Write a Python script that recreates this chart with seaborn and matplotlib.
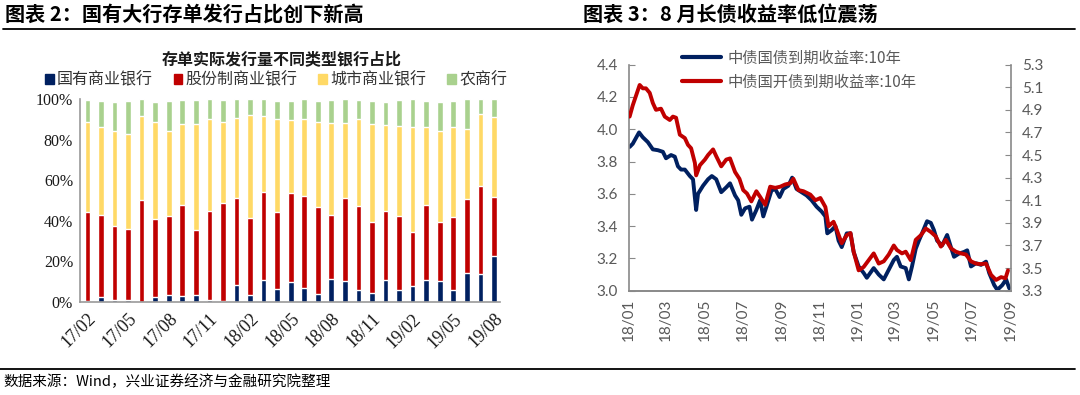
import pandas as pd
import matplotlib.pyplot as plt
import matplotlib.dates as mdates
from matplotlib.patches import Patch
from matplotlib.lines import Line2D
from matplotlib.ticker import FuncFormatter
import seaborn as sns

sns.set_theme(style="white")
plt.rcParams['font.family'] = ['Noto Sans CJK SC', 'DejaVu Sans']
plt.rcParams['axes.unicode_minus'] = False

# ---- 图表2 数据：各类银行存单实际发行量占比 (%)
months = pd.date_range('2017-02-01', periods=31, freq='MS').strftime('%y/%m').tolist()
bank_types = ['国有商业银行', '股份制商业银行', '城市商业银行', '农商行']
soe = [0.3, 2.5, 1.2, 1.2, 0.2, 2.3, 3.6, 3.1, 3.6, 0.8, 0.3, 8.4, 3.6, 10.7, 6.2, 10.0,
       6.9, 3.8, 11.1, 10.2, 6.1, 4.4, 10.7, 6.1, 8.0, 10.8, 10.2, 5.7, 14.4, 13.8, 22.5]
joint_stock = [43.8, 40.5, 36.3, 34.7, 50.1, 38.7, 39.0, 44.8, 32.0, 43.8, 48.7, 42.7, 37.7,
               43.4, 38.2, 43.8, 45.4, 43.2, 32.0, 40.8, 41.1, 34.8, 33.9, 36.4, 26.4, 37.2,
               29.1, 36.3, 36.4, 43.4, 29.1]
city = [44.6, 43.4, 46.9, 46.7, 41.2, 47.9, 41.8, 39.6, 51.9, 45.7, 39.9, 39.7, 50.8, 37.7,
        45.9, 35.7, 37.7, 41.9, 45.1, 37.2, 43.1, 48.7, 42.6, 44.4, 52.0, 38.4, 45.1, 44.1,
        34.3, 35.3, 39.5]
rural = [11.0, 12.8, 14.3, 16.6, 8.5, 9.8, 14.8, 12.2, 12.2, 9.7, 10.8, 9.2, 7.9, 8.2, 8.9,
         9.7, 10.0, 10.3, 11.5, 11.8, 9.4, 11.3, 11.5, 12.8, 13.6, 12.8, 14.3, 13.1, 14.9,
         7.5, 8.9]

# ---- 图表3 数据：10年期收益率
gov_dates = ['2018-01-02', '2018-01-07', '2018-01-17', '2018-01-23', '2018-01-31', '2018-02-08',
             '2018-02-16', '2018-02-24', '2018-03-01', '2018-03-09', '2018-03-15', '2018-03-20',
             '2018-03-25', '2018-03-31', '2018-04-08', '2018-04-13', '2018-04-18', '2018-04-21',
             '2018-04-29', '2018-05-07', '2018-05-13', '2018-05-20', '2018-05-28', '2018-06-05',
             '2018-06-11', '2018-06-19', '2018-06-24', '2018-06-29', '2018-07-05', '2018-07-12',
             '2018-07-16', '2018-07-23', '2018-07-29', '2018-08-03', '2018-08-08', '2018-08-16',
             '2018-08-22', '2018-08-29', '2018-09-04', '2018-09-12', '2018-09-18', '2018-09-25',
             '2018-10-03', '2018-10-11', '2018-10-19', '2018-10-27', '2018-11-04', '2018-11-10',
             '2018-11-13', '2018-11-20', '2018-11-26', '2018-12-01', '2018-12-06', '2018-12-14',
             '2018-12-20', '2018-12-25', '2019-01-02', '2019-01-10', '2019-01-15', '2019-01-26',
             '2019-02-03', '2019-02-11', '2019-02-19', '2019-02-27', '2019-03-04', '2019-03-10',
             '2019-03-18', '2019-03-23', '2019-03-28', '2019-04-03', '2019-04-08', '2019-04-13',
             '2019-04-21', '2019-04-27', '2019-05-02', '2019-05-07', '2019-05-15', '2019-05-23',
             '2019-05-29', '2019-06-03', '2019-06-11', '2019-06-19', '2019-06-24', '2019-06-30',
             '2019-07-08', '2019-07-16', '2019-07-24', '2019-07-29', '2019-08-06', '2019-08-11',
             '2019-08-19', '2019-08-25', '2019-08-30']
gov_yield = [3.89, 3.91, 3.98, 3.95, 3.92, 3.875, 3.87, 3.86, 3.82, 3.84, 3.83, 3.77, 3.75,
             3.75, 3.71, 3.69, 3.50, 3.60, 3.65, 3.69, 3.71, 3.69, 3.61, 3.64, 3.665, 3.59,
             3.56, 3.47, 3.51, 3.52, 3.44, 3.50, 3.56, 3.46, 3.52, 3.62, 3.63, 3.58, 3.63,
             3.65, 3.70, 3.63, 3.61, 3.59, 3.56, 3.52, 3.49, 3.46, 3.355, 3.375, 3.40, 3.31,
             3.27, 3.355, 3.355, 3.24, 3.15, 3.11, 3.08, 3.14, 3.10, 3.07, 3.13, 3.19, 3.21,
             3.15, 3.14, 3.07, 3.15, 3.26, 3.31, 3.355, 3.43, 3.42, 3.375, 3.31, 3.28, 3.345,
             3.27, 3.21, 3.23, 3.24, 3.25, 3.15, 3.17, 3.16, 3.18, 3.11, 3.035, 3.005, 3.035,
             3.07, 3.015]
cdb_dates = ['2018-01-02', '2018-01-07', '2018-01-18', '2018-01-23', '2018-01-28', '2018-02-03',
             '2018-02-08', '2018-02-13', '2018-02-21', '2018-02-27', '2018-03-07', '2018-03-12',
             '2018-03-17', '2018-03-23', '2018-03-31', '2018-04-05', '2018-04-10', '2018-04-16',
             '2018-04-18', '2018-04-24', '2018-05-02', '2018-05-07', '2018-05-15', '2018-05-20',
             '2018-05-28', '2018-06-05', '2018-06-11', '2018-06-19', '2018-06-26', '2018-07-02',
             '2018-07-08', '2018-07-15', '2018-07-23', '2018-07-29', '2018-08-06', '2018-08-14',
             '2018-08-22', '2018-08-30', '2018-09-07', '2018-09-15', '2018-09-20', '2018-09-28',
             '2018-10-06', '2018-10-17', '2018-10-25', '2018-11-02', '2018-11-10', '2018-11-15',
             '2018-11-23', '2018-11-28', '2018-12-06', '2018-12-14', '2018-12-20', '2018-12-25',
             '2019-01-02', '2019-01-10', '2019-01-18', '2019-01-26', '2019-02-03', '2019-02-11',
             '2019-02-19', '2019-02-27', '2019-03-04', '2019-03-12', '2019-03-18', '2019-03-26',
             '2019-04-03', '2019-04-11', '2019-04-19', '2019-04-27', '2019-05-05', '2019-05-13',
             '2019-05-21', '2019-05-29', '2019-06-06', '2019-06-14', '2019-06-22', '2019-06-30',
             '2019-07-08', '2019-07-16', '2019-07-24', '2019-08-01', '2019-08-09', '2019-08-17',
             '2019-08-24', '2019-08-28']
cdb_yield = [4.84, 4.94, 5.12, 5.09, 5.09, 5.05, 4.96, 4.90, 4.91, 4.84, 4.81, 4.84, 4.83,
             4.68, 4.65, 4.59, 4.56, 4.43, 4.32, 4.41, 4.46, 4.50, 4.55, 4.49, 4.40, 4.46,
             4.47, 4.35, 4.29, 4.19, 4.16, 4.09, 4.18, 4.13, 4.06, 4.22, 4.21, 4.22, 4.24,
             4.25, 4.29, 4.19, 4.18, 4.15, 4.10, 4.12, 4.04, 3.87, 3.91, 3.84, 3.72, 3.79,
             3.81, 3.645, 3.48, 3.51, 3.57, 3.63, 3.54, 3.56, 3.62, 3.70, 3.66, 3.63, 3.645,
             3.57, 3.75, 3.79, 3.85, 3.82, 3.78, 3.69, 3.75, 3.675, 3.645, 3.63, 3.62, 3.56,
             3.54, 3.535, 3.54, 3.44, 3.395, 3.42, 3.41, 3.48]

navy = '#002060'
red = '#C00000'
yellow = '#FFD966'
green = '#A9D18E'
W, H = 1080, 395

fig = plt.figure(figsize=(W / 100, H / 100), dpi=100)

# ---------------- 左图：堆叠柱状图
ax1 = fig.add_axes([80 / W, 1 - 302 / H, 420 / W, 203 / H])
cum1 = soe
cum2 = [a + b for a, b in zip(cum1, joint_stock)]
cum3 = [a + b for a, b in zip(cum2, city)]
cum4 = [a + b for a, b in zip(cum3, rural)]
for vals, c in [(cum4, green), (cum3, yellow), (cum2, red), (cum1, navy)]:
    sns.barplot(x=months, y=vals, color=c, saturation=1, width=0.42,
                errorbar=None, ax=ax1)
ax1.set_xlim(-0.55, 30.45)
ax1.set_ylim(0, 100)
ax1.set_yticks(range(0, 101, 20))
ax1.yaxis.set_major_formatter(FuncFormatter(lambda v, p: f'{v:.0f}%'))
ax1.set_xticks(range(0, 31, 3))
ax1.set_xticklabels(months[::3], rotation=45, ha='right', va='top', rotation_mode='anchor')
for lab in ax1.get_yticklabels():
    lab.set_fontfamily('Liberation Serif')
    lab.set_fontsize(11.5)
    lab.set_color('#1a1a1a')
for lab in ax1.get_xticklabels():
    lab.set_fontfamily('Liberation Serif')
    lab.set_fontsize(13)
    lab.set_color('#1a1a1a')
ax1.tick_params(axis='y', direction='out', length=3, width=0.8, color='#999999', pad=2)
ax1.tick_params(axis='x', length=0, pad=6)
for s in ['top', 'right']:
    ax1.spines[s].set_visible(False)
for s in ['left', 'bottom']:
    ax1.spines[s].set_color('#999999')
    ax1.spines[s].set_linewidth(1.2)
ax1.set_xlabel('')
ax1.set_ylabel('')

fig.text(282 / W, 1 - 59 / H, '存单实际发行量不同类型银行占比', ha='center', va='center',
         fontsize=11.5, fontweight='bold', color='#1a1a1a')
fig.legend(handles=[Patch(color=c) for c in [navy, red, yellow, green]], labels=bank_types,
           loc='center', bbox_to_anchor=(276 / W, 1 - 80 / H), ncol=4, frameon=False,
           handlelength=0.55, handleheight=0.55, handletextpad=0.2, columnspacing=1.3,
           fontsize=11.5, labelcolor='#333333', borderpad=0)

# ---------------- 右图：双轴收益率
ax2 = fig.add_axes([629 / W, 1 - 290.7 / H, 381.5 / W, 226.1 / H])
ax3 = ax2.twinx()
sns.lineplot(x=pd.to_datetime(gov_dates), y=gov_yield, color=navy, lw=2.8, ax=ax2)
sns.lineplot(x=pd.to_datetime(cdb_dates), y=cdb_yield, color=red, lw=2.8, ax=ax3)
ax2.set_xlim(pd.Timestamp('2018-01-01'), pd.Timestamp('2019-09-01'))
ax2.set_ylim(3.0, 4.4)
ax3.set_ylim(3.3, 5.3)
ax2.set_yticks([3.0 + 0.2 * i for i in range(8)])
ax3.set_yticks([3.3 + 0.2 * i for i in range(11)])
ax2.yaxis.set_major_formatter(FuncFormatter(lambda v, p: f'{v:.1f}'))
ax3.yaxis.set_major_formatter(FuncFormatter(lambda v, p: f'{v:.1f}'))
ax2.xaxis.set_major_locator(mdates.MonthLocator(bymonth=[1, 3, 5, 7, 9, 11]))
ax2.xaxis.set_major_formatter(mdates.DateFormatter('%y/%m'))
for lab in ax2.get_xticklabels():
    lab.set_rotation(90)
for a in (ax2, ax3):
    a.tick_params(direction='in', length=4, width=0.8, color='#898989',
                  labelsize=11, labelcolor='#595959', pad=8)
    for lab in a.get_xticklabels() + a.get_yticklabels():
        lab.set_fontfamily('Lato')
    for s in a.spines.values():
        s.set_color('#898989')
        s.set_linewidth(1.2)
    a.spines['top'].set_visible(False)
    a.set_xlabel('')
    a.set_ylabel('')
ax2.tick_params(axis='x', pad=6)
ax3.spines['left'].set_visible(False)
ax2.spines['right'].set_visible(False)

fig.legend(handles=[Line2D([], [], color=navy, lw=3), Line2D([], [], color=red, lw=3)],
           labels=['中债国债到期收益率:10年', '中债国开债到期收益率:10年'],
           loc='upper left', bbox_to_anchor=(674 / W, 1 - 42 / H), frameon=False,
           fontsize=11, handlelength=2.6, handletextpad=0.4, labelspacing=0.45,
           labelcolor='#595959', borderpad=0)

# ---------------- 标题与注释
fig.text(5 / W, 1 - 14 / H, '图表 2：国有大行存单发行占比创下新高', ha='left', va='center',
         fontsize=14.5, fontweight='bold', color='black')
fig.text(583 / W, 1 - 14 / H, '图表 3：8 月长债收益率低位震荡', ha='left', va='center',
         fontsize=14.5, fontweight='bold', color='black')
fig.add_artist(Line2D([3 / W, 1075 / W], [1 - 28.5 / H] * 2, transform=fig.transFigure,
                      color='black', lw=1.3))
fig.add_artist(Line2D([0, 1075 / W], [1 - 369.3 / H] * 2, transform=fig.transFigure,
                      color='black', lw=1.3))
fig.text(3 / W, 1 - 381.5 / H, '数据来源：Wind，兴业证券经济与金融研究院整理', ha='left',
         va='center', fontsize=10.5, color='black')

fig.savefig('out.png', dpi=100)
